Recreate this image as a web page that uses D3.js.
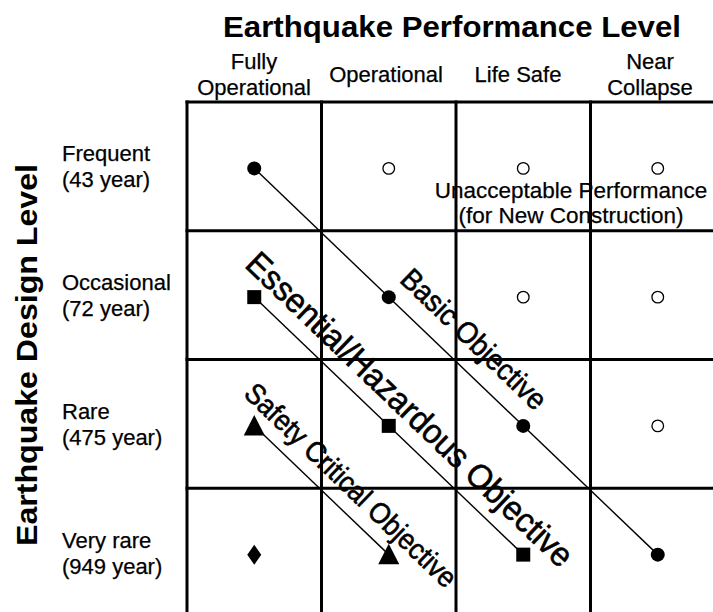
<!DOCTYPE html>
<html>
<head>
<meta charset="utf-8">
<script src="https://cdn.jsdelivr.net/npm/d3@7"></script>
<style>
  html, body { margin: 0; padding: 0; background: #fff; }
  svg { display: block; font-family: "Liberation Sans", Arial, sans-serif; }
</style>
</head>
<body>
<svg id="chart" width="713" height="612"></svg>
<script>
// ---------------- data ----------------
const perfLevels = ["Fully Operational", "Operational", "Life Safe", "Near Collapse"];
const perfLabelLines = [["Fully", "Operational"], ["Operational"], ["Life Safe"], ["Near", "Collapse"]];
const designLevels = ["Frequent", "Occasional", "Rare", "Very rare"];
const returnPeriods = [43, 72, 475, 949];
const cellSymbols = [
  ["dot", "open", "open", "open"],
  ["square", "dot", "open", "open"],
  ["triangle", "square", "dot", "open"],
  ["diamond", "triangle", "square", "dot"]
];
const objectives = ["Basic Objective", "Essential/Hazardous Objective", "Safety Critical Objective"];
const objStartRow = [0, 1, 2];
const objStartCol = [0, 0, 0];
const objEndRow = [3, 3, 3];
const objEndCol = [3, 2, 1];
const unacceptableLines = ["Unacceptable Performance", "(for New Construction)"];
const chartTitle = "Earthquake Performance Level";
const yTitle = "Earthquake Design Level";

// ---------------- layout ----------------
const L = {
  gridLeft: 187, gridRight: 725, gridTop: 102, gridBottom: 617,
  markerDy: 2,
  labelSize: 22,
  objLabel: [            // centre of each objective label, in cell-index units
    { cx: 2.134, cy: 1.840, size: 30, len: 189 },
    { cx: 1.658, cy: 2.385, size: 34, len: 438 },
    { cx: 1.219, cy: 2.975, size: 29, len: 281 }
  ]
};

const svg = d3.select("#chart");

const x = d3.scaleBand().domain(perfLevels).range([L.gridLeft, L.gridRight]);
const y = d3.scaleBand().domain(designLevels).range([L.gridTop, L.gridBottom]);
const xi = d3.scaleLinear().domain([0, 4]).range([L.gridLeft, L.gridRight]);
const yi = d3.scaleLinear().domain([0, 4]).range([L.gridTop, L.gridBottom]);
const headerX = d3.scalePoint().domain(perfLevels).range([254, 650]);

const cx = c => x(perfLevels[c]) + x.bandwidth() / 2;
const cy = r => y(designLevels[r]) + y.bandwidth() / 2 + L.markerDy;

// ---------------- titles ----------------
svg.append("text")
  .attr("x", 452).attr("y", 37)
  .attr("text-anchor", "middle")
  .attr("font-size", 30).attr("font-weight", "bold")
  .attr("textLength", 458).attr("lengthAdjust", "spacingAndGlyphs")
  .text(chartTitle);

svg.append("text")
  .attr("transform", "translate(37,355) rotate(-90)")
  .attr("text-anchor", "middle")
  .attr("font-size", 30).attr("font-weight", "bold")
  .attr("textLength", 382).attr("lengthAdjust", "spacingAndGlyphs")
  .text(yTitle);

// column headers
perfLevels.forEach((p, i) => {
  const lines = perfLabelLines[i];
  const baseY = lines.length === 2 ? [69, 95] : [82];
  lines.forEach((t, k) => {
    svg.append("text")
      .attr("x", headerX(p)).attr("y", baseY[k])
      .attr("text-anchor", "middle")
      .attr("font-size", L.labelSize)
      .attr("stroke", "#000").attr("stroke-width", 0.25)
      .text(t);
  });
});

// row labels
designLevels.forEach((d, i) => {
  const base = y(d) + y.bandwidth() / 2 - 5;
  svg.append("text").attr("x", 62).attr("y", base).attr("font-size", L.labelSize)
    .attr("stroke", "#000").attr("stroke-width", 0.25).text(d);
  svg.append("text").attr("x", 62).attr("y", base + 26).attr("font-size", L.labelSize)
    .attr("stroke", "#000").attr("stroke-width", 0.25)
    .text("(" + returnPeriods[i] + " year)");
});

// unacceptable performance note
unacceptableLines.forEach((t, k) => {
  svg.append("text")
    .attr("x", 571).attr("y", 198 + k * 25)
    .attr("text-anchor", "middle")
    .attr("font-size", 22.5)
    .attr("stroke", "#000").attr("stroke-width", 0.25)
    .text(t);
});

// objective labels (diagonal)
const angle = Math.atan2(y.bandwidth(), x.bandwidth()) * 180 / Math.PI;
objectives.forEach((o, i) => {
  const s = L.objLabel[i];
  svg.append("text")
    .attr("transform", `translate(${xi(s.cx)},${yi(s.cy)}) rotate(${angle})`)
    .attr("text-anchor", "middle")
    .attr("dy", "0.35em")
    .attr("font-size", s.size)
    .attr("stroke", "#000").attr("stroke-width", 0.6)
    .attr("textLength", s.len).attr("lengthAdjust", "spacingAndGlyphs")
    .text(o);
});

// ---------------- grid ----------------
const grid = svg.append("g").attr("stroke", "#000").attr("stroke-width", 3);
d3.range(5).forEach(k => {
  grid.append("line").attr("x1", xi(k)).attr("x2", xi(k))
    .attr("y1", L.gridTop - 1.5).attr("y2", L.gridBottom);
  grid.append("line").attr("y1", yi(k)).attr("y2", yi(k))
    .attr("x1", L.gridLeft - 1.5).attr("x2", L.gridRight);
});

// ---------------- objective lines ----------------
objectives.forEach((o, i) => {
  svg.append("line")
    .attr("x1", cx(objStartCol[i])).attr("y1", cy(objStartRow[i]))
    .attr("x2", cx(objEndCol[i])).attr("y2", cy(objEndRow[i]))
    .attr("stroke", "#000").attr("stroke-width", 1.4);
});

// ---------------- markers ----------------
const cells = [];
cellSymbols.forEach((row, r) => row.forEach((s, c) => cells.push({ r, c, s })));

const symPath = {
  square: d3.symbol().type(d3.symbolSquare).size(196)(),
  triangle: "M0,-11L10.5,9.5L-10.5,9.5Z",
  diamond: "M0,-10L7,0L0,10L-7,0Z"
};

const mk = svg.append("g").selectAll("g").data(cells).join("g")
  .attr("transform", d => `translate(${cx(d.c)},${cy(d.r)})`);

mk.filter(d => d.s === "dot").append("circle").attr("r", 7).attr("fill", "#000");
mk.filter(d => d.s === "open").append("circle").attr("r", 5.8)
  .attr("fill", "#fff").attr("stroke", "#000").attr("stroke-width", 1.3);
mk.filter(d => symPath[d.s]).append("path").attr("d", d => symPath[d.s]).attr("fill", "#000");
</script>
</body>
</html>
